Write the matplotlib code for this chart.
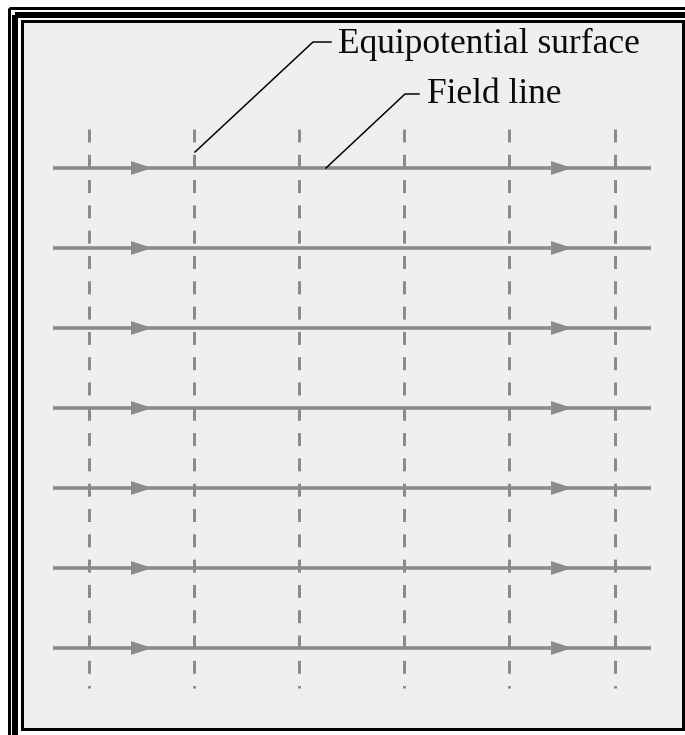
import matplotlib
matplotlib.use('Agg')
import matplotlib.pyplot as plt
from matplotlib.patches import Rectangle, Polygon

# pixel-space coordinates of the drawing (y grows downward)
field_y = [168, 248, 328, 408, 488, 568, 648]      # field lines
field_x = [53, 651]
arrow_tips = [152, 572]
equip_x = [89, 194, 299, 404, 509, 615]           # equipotential surfaces
equip_y = [129, 688]

labels = ['Equipotential surface', 'Field line']
label_pos = [(338, 53), (427, 103)]
leaders = [[(195, 152), (313, 42), (331, 42)],
           [(326, 168), (405, 94), (419, 94)]]

W, H = 685, 735
gray = '#8b8b8b'
bg = '#efefef'

plt.rcParams['lines.scale_dashes'] = False
fig = plt.figure(figsize=(W / 100, H / 100), dpi=100)
ax = fig.add_axes([0, 0, 1, 1])
ax.set_xlim(0, W)
ax.set_ylim(H, 0)
ax.axis('off')
fig.patch.set_facecolor('white')

px = 0.72  # points per pixel

# frame: outer thin, thick middle, inner thin around grey panel
ax.add_patch(Rectangle((22, 21), 661, 708, facecolor=bg, edgecolor='black',
                       lw=3 * px, zorder=0))
ax.add_patch(Rectangle((15.5, 14.5), 700, 722, facecolor='none', edgecolor='black',
                       lw=6 * px, zorder=0))
ax.add_patch(Rectangle((9, 8), 700, 740, facecolor='none', edgecolor='black',
                       lw=3 * px, zorder=0))

# equipotential surfaces (dashed)
for x in equip_x:
    ax.plot([x, x], equip_y, color=gray, lw=3 * px, solid_capstyle='butt',
            dash_capstyle='butt', linestyle=(0, (13 * px, 12.3 * px)), zorder=2)

# field lines with arrowheads
for y in field_y:
    ax.plot(field_x, [y, y], color=gray, lw=3.6 * px, solid_capstyle='butt', zorder=3)
    for xt in arrow_tips:
        ax.add_patch(Polygon([(xt, y), (xt - 21, y - 7), (xt - 21, y + 7)],
                             closed=True, facecolor=gray, edgecolor='none', zorder=4))

# labels with leader lines
for text, (tx, ty), pts in zip(labels, label_pos, leaders):
    xs, ys = zip(*pts)
    ax.plot(xs, ys, color='black', lw=1.5 * px, zorder=5)
    ax.text(tx, ty, text, fontsize=25.5, family='Liberation Serif',
            ha='left', va='baseline', color='#0a0a0a', zorder=6)

fig.savefig('out.png', dpi=100, facecolor='white')
